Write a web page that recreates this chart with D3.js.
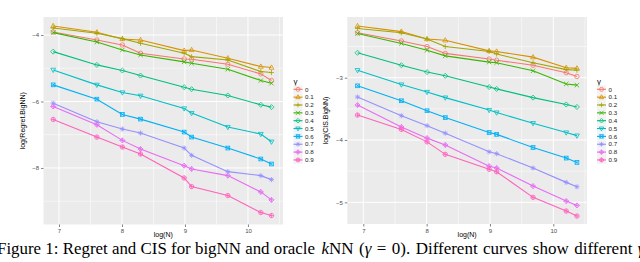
<!DOCTYPE html>
<html><head><meta charset="utf-8">
<script src="https://cdn.jsdelivr.net/npm/d3@7"></script>
<style>
html,body{margin:0;padding:0;background:#fff;}
svg{display:block;}
</style></head>
<body>
<svg id="chart" width="640" height="262"></svg>
<script>
// ---- data ----
const logN = [6.908, 7.601, 8.006, 8.294, 8.987, 9.105, 9.680, 10.204, 10.373];
const gammas = ["0", "0.1", "0.2", "0.3", "0.4", "0.5", "0.6", "0.7", "0.8", "0.9"];
const regretSeries = [
  [-3.91, -4.15, -4.30, -4.55, -4.72, -4.73, -4.88, -5.17, -5.37],
  [-3.73, -3.92, -4.12, -4.15, -4.47, -4.45, -4.70, -4.95, -4.98],
  [-3.79, -3.95, -4.11, -4.25, -4.55, -4.65, -4.75, -5.10, -5.13],
  [-3.93, -4.21, -4.45, -4.60, -4.81, -4.85, -5.03, -5.37, -5.45],
  [-4.50, -4.90, -5.07, -5.22, -5.57, -5.63, -5.82, -6.10, -6.17],
  [-5.05, -5.50, -5.73, -5.83, -6.21, -6.35, -6.77, -6.98, -7.21],
  [-5.50, -5.93, -6.39, -6.53, -6.92, -7.07, -7.40, -7.73, -7.88],
  [-6.05, -6.61, -6.83, -6.95, -7.40, -7.62, -8.11, -8.23, -8.35],
  [-6.15, -6.70, -7.17, -7.43, -7.93, -8.03, -8.23, -8.72, -8.96],
  [-6.54, -7.07, -7.37, -7.58, -8.30, -8.56, -8.83, -9.34, -9.43]
];
const cisSeries = [
  [-2.28, -2.41, -2.50, -2.61, -2.70, -2.72, -2.80, -2.92, -2.98],
  [-2.17, -2.26, -2.38, -2.40, -2.57, -2.58, -2.67, -2.84, -2.85],
  [-2.21, -2.28, -2.38, -2.50, -2.58, -2.62, -2.76, -2.87, -2.88],
  [-2.29, -2.45, -2.56, -2.65, -2.75, -2.76, -2.89, -3.10, -3.12],
  [-2.60, -2.80, -2.91, -2.97, -3.15, -3.18, -3.32, -3.43, -3.47],
  [-2.88, -3.11, -3.23, -3.32, -3.52, -3.56, -3.73, -3.88, -3.93],
  [-3.13, -3.37, -3.53, -3.64, -3.88, -3.91, -4.12, -4.29, -4.36],
  [-3.31, -3.61, -3.77, -3.89, -4.19, -4.22, -4.45, -4.68, -4.75],
  [-3.44, -3.79, -3.97, -4.08, -4.42, -4.45, -4.74, -4.98, -5.05],
  [-3.60, -3.83, -4.03, -4.23, -4.47, -4.51, -4.92, -5.14, -5.22]
];
const xTicks = [7, 8, 9, 10];
const xMinor = [7.5, 8.5, 9.5, 10.5];
const regretTicks = [-4, -6, -8];
const regretMinor = [-5, -7, -9];
const cisTicks = [-3, -4, -5];
const cisMinor = [-2.5, -3.5, -4.5];
const colors = ["#F8766D", "#D89000", "#A3A500", "#39B600", "#00BF7D", "#00BFC4", "#00B0F6", "#9590FF", "#E76BF3", "#FF62BC"];
const shapes = [1, 2, 3, 4, 5, 6, 7, 8, 9, 10];

const svg = d3.select("#chart");

function drawShape(g, shape, cx, cy, r, color) {
  const sw = 0.8;
  const s = g.append("g").attr("transform", `translate(${cx},${cy})`)
    .attr("fill", "none").attr("stroke", color).attr("stroke-width", sw);
  const line = (x1, y1, x2, y2) => s.append("line").attr("x1", x1).attr("y1", y1).attr("x2", x2).attr("y2", y2);
  const d = r * 1.15;
  switch (shape) {
    case 1: s.append("circle").attr("r", r); break;
    case 2: s.append("path").attr("d", `M0,${-r*1.2}L${r*1.1},${r*0.75}L${-r*1.1},${r*0.75}Z`); break;
    case 3: line(-d, 0, d, 0); line(0, -d, 0, d); break;
    case 4: line(-r, -r, r, r); line(-r, r, r, -r); break;
    case 5: s.append("path").attr("d", `M0,${-d}L${d},0L0,${d}L${-d},0Z`); break;
    case 6: s.append("path").attr("d", `M0,${r*1.2}L${r*1.1},${-r*0.75}L${-r*1.1},${-r*0.75}Z`); break;
    case 7: s.append("rect").attr("x", -r*0.85).attr("y", -r*0.85).attr("width", r*1.7).attr("height", r*1.7);
            line(-r*0.85, -r*0.85, r*0.85, r*0.85); line(-r*0.85, r*0.85, r*0.85, -r*0.85); break;
    case 8: line(-d, 0, d, 0); line(0, -d, 0, d); line(-r*0.8, -r*0.8, r*0.8, r*0.8); line(-r*0.8, r*0.8, r*0.8, -r*0.8); break;
    case 9: s.append("path").attr("d", `M0,${-d}L${d},0L0,${d}L${-d},0Z`); line(-d, 0, d, 0); line(0, -d, 0, d); break;
    case 10: s.append("circle").attr("r", r); line(-r, 0, r, 0); line(0, -r, 0, r); break;
  }
}

function panel(opts) {
  const { x0, x1, y0, y1, xDom, yDom, series, yTicks, yMinor, ylab, legendX } = opts;
  const x = d3.scaleLinear().domain(xDom).range([x0, x1]);
  const y = d3.scaleLinear().domain(yDom).range([y1, y0]);
  const g = svg.append("g");
  g.append("rect").attr("x", x0).attr("y", y0).attr("width", x1 - x0).attr("height", y1 - y0).attr("fill", "#EBEBEB");
  g.selectAll(".xm").data(xMinor).join("line").attr("x1", d => x(d)).attr("x2", d => x(d)).attr("y1", y0).attr("y2", y1)
    .attr("stroke", "#fff").attr("stroke-width", 0.5);
  g.selectAll(".ym").data(yMinor).join("line").attr("y1", d => y(d)).attr("y2", d => y(d)).attr("x1", x0).attr("x2", x1)
    .attr("stroke", "#fff").attr("stroke-width", 0.5);
  g.selectAll(".xM").data(xTicks).join("line").attr("x1", d => x(d)).attr("x2", d => x(d)).attr("y1", y0).attr("y2", y1)
    .attr("stroke", "#fff").attr("stroke-width", 1);
  g.selectAll(".yM").data(yTicks).join("line").attr("y1", d => y(d)).attr("y2", d => y(d)).attr("x1", x0).attr("x2", x1)
    .attr("stroke", "#fff").attr("stroke-width", 1);
  const xa = g.append("g").attr("transform", `translate(0,${y1})`)
    .call(d3.axisBottom(x).tickValues(xTicks).tickSize(2.5).tickPadding(2).tickFormat(d3.format("d")));
  const ya = g.append("g").attr("transform", `translate(${x0},0)`)
    .call(d3.axisLeft(y).tickValues(yTicks).tickSize(2.5).tickPadding(2).tickFormat(d => "\u2212" + Math.abs(d)));
  [xa, ya].forEach(a => {
    a.select(".domain").remove();
    a.selectAll(".tick line").attr("stroke", "#333").attr("stroke-width", 0.6);
    a.selectAll(".tick text").attr("fill", "#4D4D4D").attr("font-size", 6).attr("font-family", "Liberation Sans, Arial, sans-serif");
  });
  g.append("text").attr("x", (x0 + x1) / 2).attr("y", y1 + 12.5).attr("text-anchor", "middle")
    .attr("font-size", 7).attr("font-family", "Liberation Sans, Arial, sans-serif").text("log(N)");
  g.append("text").attr("transform", `translate(${x0 - 19},${(y0 + y1) / 2}) rotate(-90)`).attr("text-anchor", "middle")
    .attr("font-size", 7).attr("font-family", "Liberation Sans, Arial, sans-serif").text(ylab);
  const line = d3.line().x((d, i) => x(logN[i])).y(d => y(d));
  series.forEach((vals, k) => {
    g.append("path").attr("d", line(vals)).attr("fill", "none").attr("stroke", colors[k]).attr("stroke-width", 1.1);
    vals.forEach((v, i) => drawShape(g, shapes[k], x(logN[i]), y(v), 2.2, colors[k]));
  });
  const lg = g.append("g");
  lg.append("text").attr("x", legendX).attr("y", 84).attr("font-size", 8).attr("font-family", "Liberation Sans, Arial, sans-serif")
    .text("γ");
  gammas.forEach((lab, k) => {
    const cy = 89.3 + k * 7.85;
    lg.append("rect").attr("x", legendX).attr("y", cy - 3.9).attr("width", 9).attr("height", 7.8).attr("fill", "#F2F2F2");
    lg.append("line").attr("x1", legendX).attr("x2", legendX + 9).attr("y1", cy).attr("y2", cy)
      .attr("stroke", colors[k]).attr("stroke-width", 1.1);
    drawShape(lg, shapes[k], legendX + 4.5, cy, 2, colors[k]);
    lg.append("text").attr("x", legendX + 11.5).attr("y", cy + 2.2).attr("font-size", 6.2)
      .attr("font-family", "Liberation Sans, Arial, sans-serif").attr("fill", "#222").text(lab);
  });
}

panel({ x0: 43.5, x1: 283, y0: 17, y1: 224.5, xDom: [6.754, 10.556], yDom: [-9.70, -3.459],
  series: regretSeries, yTicks: regretTicks, yMinor: regretMinor, ylab: "log(Regret.BigNN)", legendX: 293.5 });
panel({ x0: 347.3, x1: 587, y0: 17, y1: 224, xDom: [6.747, 10.532], yDom: [-5.348, -2.026],
  series: cisSeries, yTicks: cisTicks, yMinor: cisMinor, ylab: "log(CIS.BigNN)", legendX: 597 });

// caption: two segments fitted to the extents seen in the reference
function captionPart(x, target, parts) {
  const t = svg.append("text").attr("x", x).attr("y", 253.5).attr("font-size", 17)
    .attr("font-family", "Liberation Serif, Times New Roman, serif").attr("fill", "#000");
  parts.forEach(([txt, it]) => t.append("tspan").attr("font-style", it ? "italic" : null).text(txt));
  const w = t.node().getComputedTextLength();
  const spaces = parts.map(p => p[0]).join("").split(" ").length - 1;
  if (target >= w) t.attr("word-spacing", (target - w) / spaces);
  else t.attr("textLength", target).attr("lengthAdjust", "spacingAndGlyphs");
  return t;
}
captionPart(-3, 318, [["Figure 1: Regret and CIS for bigNN and oracle", false]]);
captionPart(321.5, 323, [["k", true], ["NN (", false], ["γ", true], [" = 0). Different curves show different ", false], ["γ", true]]);
</script>
</body></html>
